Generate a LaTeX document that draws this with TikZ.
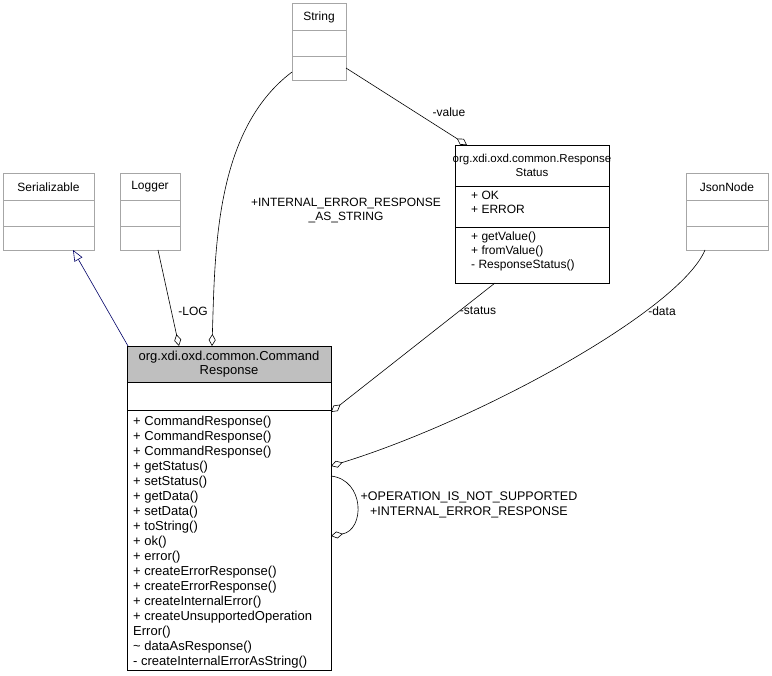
\documentclass[tikz,border=0pt]{standalone}
\usepackage{fontspec}
\setmainfont{Liberation Sans}
\usetikzlibrary{arrows.meta}
\begin{document}
\begin{tikzpicture}[x=1pt,y=-1pt,
  box/.style={draw=black,line width=0.7pt,anchor=north west,inner sep=0pt},
  gbox/.style={box,draw=gray!70},
  txt/.style={font=\fontsize{12}{14}\selectfont,inner sep=0pt},
  lbl/.style={txt,align=center},
  agg/.style={{Diamond[open,length=12pt,width=7pt]}-,line width=0.6pt},
  gen/.style={-{Triangle[open,length=11pt,width=9pt]},draw=blue!40!black,line width=0.6pt}]
\useasboundingbox (0,0) rectangle (772,676);
% String
\node[gbox,minimum width=54pt,minimum height=77pt] (str) at (292,3) {};
\draw[gray!70] (292,30)--(346,30) (292,56)--(346,56);
\node[txt] (strt) at (319,17) {String};
% Serializable
\node[gbox,minimum width=91pt,minimum height=77pt] (ser) at (3,173) {};
\draw[gray!70] (3,200)--(94,200) (3,226)--(94,226);
\node[txt] (sert) at (48.5,187) {Serializable};
% Logger
\node[gbox,minimum width=60pt,minimum height=77pt] (log) at (120,173) {};
\draw[gray!70] (120,200)--(180,200) (120,226)--(180,226);
\node[txt] (logt) at (150,187) {Logger};
% JsonNode
\node[gbox,minimum width=82pt,minimum height=77pt] (jn) at (686,173) {};
\draw[gray!70] (686,200)--(768,200) (686,226)--(768,226);
\node[txt] (jnt) at (727,187) {JsonNode};
% ResponseStatus
\node[box,minimum width=154pt,minimum height=138pt] (rs) at (455,145) {};
\draw (455,186)--(609,186) (455,227)--(609,227);
\node[lbl,font=\fontsize{11.5}{14}\selectfont] (rst) at (532,165) {org.xdi.oxd.common.Response\\Status};
\node[txt,anchor=north west,align=left] (rsa) at (471,191) {+ OK\\+ ERROR};
\node[txt,anchor=north west,align=left] (rsm) at (471,232) {+ getValue()\\+ fromValue()\\- ResponseStatus()};
% CommandResponse
\node[box,fill=gray!50,minimum width=204pt,minimum height=36pt] (crt) at (127,346) {};
\node[box,minimum width=204pt,minimum height=324pt] (cr) at (127,346) {};
\draw (127,382)--(331,382) (127,410)--(331,410);
\node[lbl,font=\fontsize{13}{14.5}\selectfont] (crtt) at (229,364) {org.xdi.oxd.common.Command\\Response};
\node[txt,anchor=north west,align=left,font=\fontsize{13}{15}\selectfont] (crm) at (133,416) {%
+ CommandResponse()\\+ CommandResponse()\\+ CommandResponse()\\+ getStatus()\\+ setStatus()\\+ getData()\\+ setData()\\+ toString()\\+ ok()\\+ error()\\+ createErrorResponse()\\+ createErrorResponse()\\+ createInternalError()\\+ createUnsupportedOperation\\Error()\\\textasciitilde{} dataAsResponse()\\- createInternalErrorAsString()};
% connection points
\coordinate (c1) at (179,346);
\coordinate (c2) at (212,346);
\coordinate (c3) at (331,412);
\coordinate (c4) at (331,466);
\coordinate (c5) at (331,476);
\coordinate (c6) at (331,536);
\coordinate (rsin) at (467,145);
% edges
\draw[gen] (128,346) -- (73,250);
\draw[agg] (c1) -- (158,250);
\node[txt] (l1) at (193,311) {-LOG};
\draw[agg] (c2) .. controls (215,250) and (215,130) .. (292,72);
\node[lbl] (l2) at (346,211) {+INTERNAL\_ERROR\_RESPONSE\\\_AS\_STRING};
\draw[agg] (rsin) -- (346,68);
\node[txt] (l3) at (449,112) {-value};
\draw[agg] (c3) -- (495,283);
\node[txt] (l4) at (478,311) {-status};
\draw[agg] (c4) .. controls (480,420) and (680,310) .. (705,250);
\node[txt] (l5) at (662,311) {-data};
\draw[agg] (c6) .. controls (365,530) and (365,480) .. (c5);
\node[lbl,font=\fontsize{12.5}{15}\selectfont] (l6) at (469,505) {+OPERATION\_IS\_NOT\_SUPPORTED\\+INTERNAL\_ERROR\_RESPONSE};
\end{tikzpicture}
\end{document}
